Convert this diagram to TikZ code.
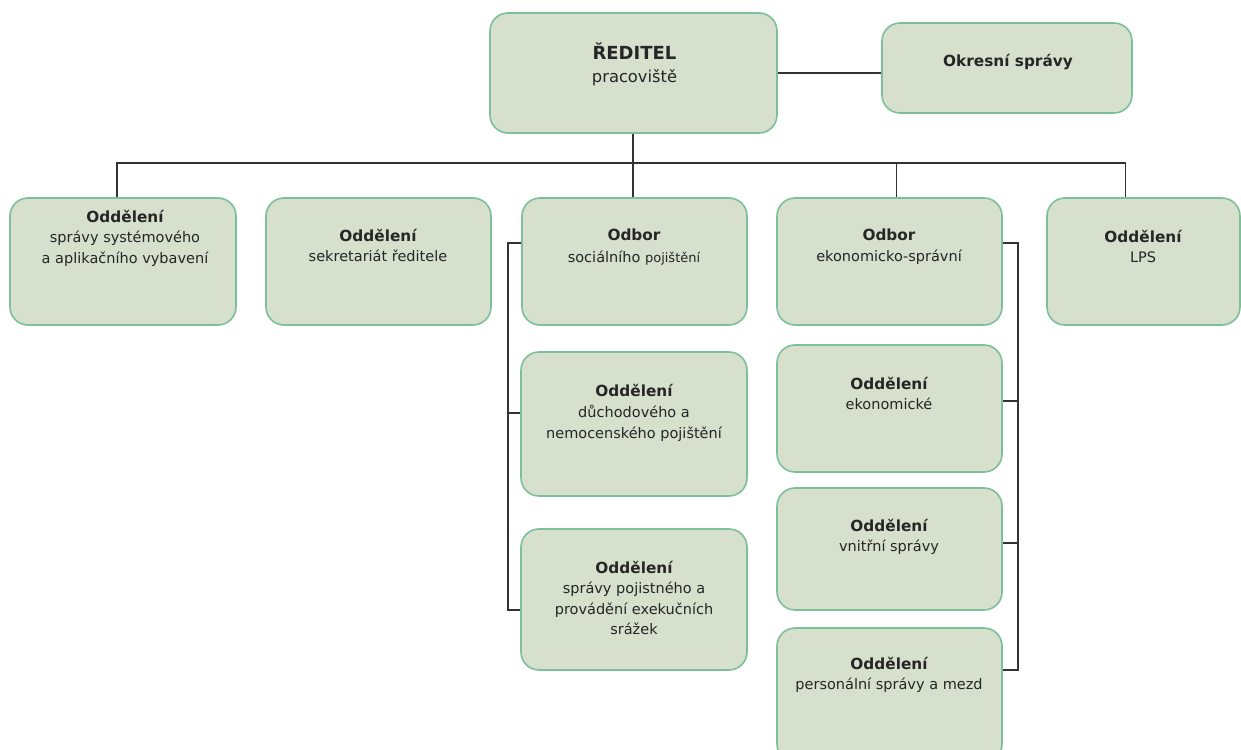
\documentclass[tikz,border=0pt]{standalone}
\usepackage{fontspec}
\setmainfont{DejaVu Sans}
\definecolor{boxfill}{HTML}{D6E0CC}
\definecolor{boxline}{HTML}{7CC09A}
\definecolor{conn}{HTML}{333333}
\newcommand{\hd}[1]{{\fontsize{15.3}{20.5}\selectfont\bfseries #1}}
\begin{document}
\begin{tikzpicture}[x=1pt,y=-1pt,
  box/.style={draw=boxline,fill=boxfill,line width=1.6pt,rounded corners=18pt,inner sep=0pt},
  txt/.style={anchor=north,align=center,inner sep=0pt,text=black!85,font=\fontsize{14.5}{20.5}\selectfont},
  wire/.style={draw=conn,line width=1.4pt}]
\useasboundingbox (0,0) rectangle (1241,749);
% boxes
\node[box,minimum width=287pt,minimum height=120pt] (dir) at (633.5,73) {};
\node[box,minimum width=250pt,minimum height=90pt] (okr) at (1007,68) {};
\node[box,minimum width=226pt,minimum height=127pt] (o1) at (123,261.5) {};
\node[box,minimum width=225pt,minimum height=127pt] (o2) at (378.5,261.5) {};
\node[box,minimum width=225pt,minimum height=127pt] (soc) at (634.5,261.5) {};
\node[box,minimum width=225pt,minimum height=127pt] (ek) at (889.5,261.5) {};
\node[box,minimum width=193pt,minimum height=127pt] (lps) at (1143.5,261.5) {};
\node[box,minimum width=226pt,minimum height=144pt] (duch) at (634,424) {};
\node[box,minimum width=226pt,minimum height=141pt] (poj) at (634,599.5) {};
\node[box,minimum width=225pt,minimum height=127pt] (ekon) at (889.5,408.5) {};
\node[box,minimum width=225pt,minimum height=122pt] (vnit) at (889.5,549) {};
\node[box,minimum width=225pt,minimum height=134pt] (pers) at (889.5,695) {};
% texts
\node[txt,font=\fontsize{16.3}{23}\selectfont] (dirt) at (634.5,43) {{\fontsize{18}{23}\selectfont\bfseries ŘEDITEL}\\pracoviště};
\node[txt] (okrt) at (1008,54) {\hd{Okresní správy}};
\node[txt] (o1t) at (125,210) {\hd{Oddělení}\\správy systémového\\a aplikačního vybavení};
\node[txt] (o2t) at (378,229) {\hd{Oddělení}\\sekretariát ředitele};
\node[txt,font=\fontsize{14.5}{22}\selectfont] (soct) at (634,229) {\hd{Odbor}\\sociálního {\fontsize{13}{22}\selectfont pojištění}};
\node[txt,font=\fontsize{14.5}{21}\selectfont] (ekt) at (889,229) {\hd{Odbor}\\ekonomicko-správní};
\node[txt] (lpst) at (1143,230) {\hd{Oddělení}\\LPS};
\node[txt,font=\fontsize{14.5}{21}\selectfont] (ducht) at (634,384) {\hd{Oddělení}\\důchodového a\\nemocenského pojištění};
\node[txt] (pojt) at (634,561) {\hd{Oddělení}\\správy pojistného a\\provádění exekučních\\srážek};
\node[txt] (ekont) at (889,377) {\hd{Oddělení}\\ekonomické};
\node[txt] (vnitt) at (889,519) {\hd{Oddělení}\\vnitřní správy};
\node[txt] (perst) at (889,657) {\hd{Oddělení}\\personální správy a mezd};
% connectors
\coordinate (bus) at (633,163);
\draw[wire] (dir.east) -- (okr.west |- dir.east);
\draw[wire] (bus |- dir.south) -- (bus);
\draw[wire] ([xshift=-6pt]o1.north) |- (bus) -| ([xshift=-18pt]lps.north);
\draw[wire] (bus) -- (bus |- soc.north);
\draw[wire] ([xshift=7pt]ek.north) -- ([xshift=7pt]ek.north |- bus);
\coordinate (lb) at (508,243);
\coordinate (rb) at (1018,243);
\draw[wire] (soc.west |- lb) -- (lb) |- (poj.west |- 0,610);
\draw[wire] (lb |- 0,413) -- (duch.west |- 0,413);
\draw[wire] (ek.east |- rb) -- (rb) |- (pers.east |- 0,670);
\draw[wire] (rb |- 0,401) -- (ekon.east |- 0,401);
\draw[wire] (rb |- 0,543) -- (vnit.east |- 0,543);
\end{tikzpicture}
\end{document}
